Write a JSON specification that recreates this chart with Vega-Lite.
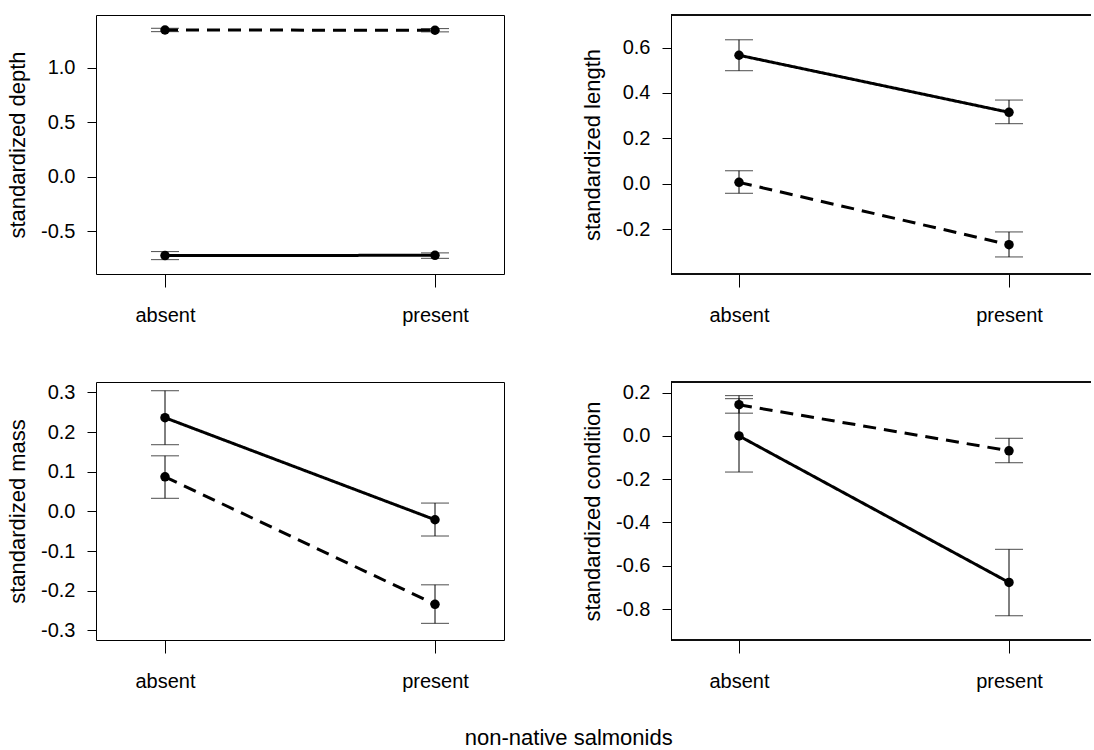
{
  "$schema": "https://vega.github.io/schema/vega-lite/v6.json",
  "padding": {"left": 6, "top": 14, "right": 0, "bottom": 0},
  "background": "white",
  "config": {
    "font": "Liberation Sans",
    "view": {"stroke": "black", "strokeWidth": 1},
    "axis": {"labelFont": "Liberation Sans", "labelFontSize": 20, "labelColor": "black", "titleFont": "Liberation Sans", "titleFontSize": 22, "titleFontWeight": "normal", "titleColor": "black", "grid": false, "tickColor": "black", "tickWidth": 1, "domain": false},
    "axisX": {"tickSize": 13, "labelPadding": 18, "labelAngle": 0},
    "axisY": {"tickSize": 9, "labelPadding": 12, "titlePadding": 11}
  },
  "title": {"text": "non-native salmonids", "orient": "bottom", "anchor": "middle", "fontSize": 22, "fontWeight": "normal", "font": "Liberation Sans", "color": "black", "offset": 36, "dx": 20},
  "data": {"values": [
    {"panel": "depth", "salmonids": "absent", "group": "group 1", "mean": -0.725, "lo": -0.762, "hi": -0.688},
    {"panel": "depth", "salmonids": "present", "group": "group 1", "mean": -0.722, "lo": -0.75, "hi": -0.70},
    {"panel": "depth", "salmonids": "absent", "group": "group 2", "mean": 1.348, "lo": 1.333, "hi": 1.364},
    {"panel": "depth", "salmonids": "present", "group": "group 2", "mean": 1.346, "lo": 1.331, "hi": 1.361},
    {"panel": "length", "salmonids": "absent", "group": "group 1", "mean": 0.566, "lo": 0.498, "hi": 0.634},
    {"panel": "length", "salmonids": "present", "group": "group 1", "mean": 0.315, "lo": 0.265, "hi": 0.369},
    {"panel": "length", "salmonids": "absent", "group": "group 2", "mean": 0.007, "lo": -0.041, "hi": 0.058},
    {"panel": "length", "salmonids": "present", "group": "group 2", "mean": -0.267, "lo": -0.321, "hi": -0.211},
    {"panel": "mass", "salmonids": "absent", "group": "group 1", "mean": 0.236, "lo": 0.168, "hi": 0.304},
    {"panel": "mass", "salmonids": "present", "group": "group 1", "mean": -0.021, "lo": -0.062, "hi": 0.021},
    {"panel": "mass", "salmonids": "absent", "group": "group 2", "mean": 0.087, "lo": 0.033, "hi": 0.14},
    {"panel": "mass", "salmonids": "present", "group": "group 2", "mean": -0.234, "lo": -0.282, "hi": -0.185},
    {"panel": "condition", "salmonids": "absent", "group": "group 1", "mean": 0.0, "lo": -0.167, "hi": 0.172},
    {"panel": "condition", "salmonids": "present", "group": "group 1", "mean": -0.677, "lo": -0.831, "hi": -0.524},
    {"panel": "condition", "salmonids": "absent", "group": "group 2", "mean": 0.144, "lo": 0.105, "hi": 0.186},
    {"panel": "condition", "salmonids": "present", "group": "group 2", "mean": -0.069, "lo": -0.124, "hi": -0.011}
  ]},
  "columns": 2,
  "spacing": {"row": 108, "column": 167},
  "bounds": "flush",
  "concat": [
    {
      "width": 408, "height": 259,
      "transform": [{"filter": "datum.panel === 'depth'"}],
      "layer": [
        {"mark": {"type": "errorbar", "color": "black", "ticks": {"size": 28, "thickness": 1, "color": "black"}, "rule": {"strokeWidth": 1, "color": "black"}},
         "encoding": {"x": {"field": "salmonids", "type": "nominal", "scale": {"type": "point", "range": [69, 339], "padding": 0}, "axis": {"title": null}},
                      "y": {"field": "lo", "type": "quantitative", "scale": {"domain": [-0.894, 1.486], "nice": false, "zero": false}, "axis": {"title": "standardized depth", "values": [-0.5, 0, 0.5, 1.0], "labelExpr": "replace(format(datum.value, '.1f'), '\u2212', '-')"}}, "y2": {"field": "hi"}}},
        {"mark": {"type": "line", "color": "black", "strokeWidth": 3},
         "encoding": {"x": {"field": "salmonids", "type": "nominal"}, "y": {"field": "mean", "type": "quantitative", "scale": {"domain": [-0.894, 1.486], "nice": false, "zero": false}}, "strokeDash": {"field": "group", "type": "nominal", "scale": {"domain": ["group 1", "group 2"], "range": [[1, 0], [13, 8]]}, "legend": null}}},
        {"mark": {"type": "point", "filled": true, "color": "black", "size": 90, "opacity": 1},
         "encoding": {"x": {"field": "salmonids", "type": "nominal"}, "y": {"field": "mean", "type": "quantitative", "scale": {"domain": [-0.894, 1.486], "nice": false, "zero": false}}}}
      ]
    },
    {
      "width": 420, "height": 259,
      "view": {"stroke": null},
      "transform": [{"filter": "datum.panel === 'length'"}],
      "layer": [
        {"mark": {"type": "errorbar", "color": "black", "ticks": {"size": 28, "thickness": 1, "color": "black"}, "rule": {"strokeWidth": 1, "color": "black"}},
         "encoding": {"x": {"field": "salmonids", "type": "nominal", "scale": {"type": "point", "range": [68, 338], "padding": 0}, "axis": {"title": null}},
                      "y": {"field": "lo", "type": "quantitative", "scale": {"domain": [-0.396, 0.743], "nice": false, "zero": false}, "axis": {"title": "standardized length", "domain": true, "domainColor": "black", "values": [-0.2, 0, 0.2, 0.4, 0.6], "labelExpr": "replace(format(datum.value, '.1f'), '\u2212', '-')"}}, "y2": {"field": "hi"}}},
        {"mark": {"type": "line", "color": "black", "strokeWidth": 3},
         "encoding": {"x": {"field": "salmonids", "type": "nominal"}, "y": {"field": "mean", "type": "quantitative", "scale": {"domain": [-0.396, 0.743], "nice": false, "zero": false}}, "strokeDash": {"field": "group", "type": "nominal", "scale": {"domain": ["group 1", "group 2"], "range": [[1, 0], [13, 8]]}, "legend": null}}},
        {"mark": {"type": "point", "filled": true, "color": "black", "size": 90, "opacity": 1},
         "encoding": {"x": {"field": "salmonids", "type": "nominal"}, "y": {"field": "mean", "type": "quantitative", "scale": {"domain": [-0.396, 0.743], "nice": false, "zero": false}}}},
        {"mark": {"type": "rule", "color": "black", "strokeWidth": 1}, "encoding": {"y": {"datum": 0.743}}},
        {"mark": {"type": "rule", "color": "black", "strokeWidth": 1}, "encoding": {"y": {"datum": -0.396}}}
      ]
    },
    {
      "width": 408, "height": 258,
      "transform": [{"filter": "datum.panel === 'mass'"}],
      "layer": [
        {"mark": {"type": "errorbar", "color": "black", "ticks": {"size": 28, "thickness": 1, "color": "black"}, "rule": {"strokeWidth": 1, "color": "black"}},
         "encoding": {"x": {"field": "salmonids", "type": "nominal", "scale": {"type": "point", "range": [69, 339], "padding": 0}, "axis": {"title": null}},
                      "y": {"field": "lo", "type": "quantitative", "scale": {"domain": [-0.324, 0.326], "nice": false, "zero": false}, "axis": {"title": "standardized mass", "values": [-0.3, -0.2, -0.1, 0, 0.1, 0.2, 0.3], "labelExpr": "replace(format(datum.value, '.1f'), '\u2212', '-')"}}, "y2": {"field": "hi"}}},
        {"mark": {"type": "line", "color": "black", "strokeWidth": 3},
         "encoding": {"x": {"field": "salmonids", "type": "nominal"}, "y": {"field": "mean", "type": "quantitative", "scale": {"domain": [-0.324, 0.326], "nice": false, "zero": false}}, "strokeDash": {"field": "group", "type": "nominal", "scale": {"domain": ["group 1", "group 2"], "range": [[1, 0], [13, 8]]}, "legend": null}}},
        {"mark": {"type": "point", "filled": true, "color": "black", "size": 90, "opacity": 1},
         "encoding": {"x": {"field": "salmonids", "type": "nominal"}, "y": {"field": "mean", "type": "quantitative", "scale": {"domain": [-0.324, 0.326], "nice": false, "zero": false}}}}
      ]
    },
    {
      "width": 420, "height": 258,
      "view": {"stroke": null},
      "transform": [{"filter": "datum.panel === 'condition'"}],
      "layer": [
        {"mark": {"type": "errorbar", "color": "black", "ticks": {"size": 28, "thickness": 1, "color": "black"}, "rule": {"strokeWidth": 1, "color": "black"}},
         "encoding": {"x": {"field": "salmonids", "type": "nominal", "scale": {"type": "point", "range": [68, 338], "padding": 0}, "axis": {"title": null}},
                      "y": {"field": "lo", "type": "quantitative", "scale": {"domain": [-0.943, 0.249], "nice": false, "zero": false}, "axis": {"title": "standardized condition", "domain": true, "domainColor": "black", "values": [-0.8, -0.6, -0.4, -0.2, 0, 0.2], "labelExpr": "replace(format(datum.value, '.1f'), '\u2212', '-')"}}, "y2": {"field": "hi"}}},
        {"mark": {"type": "line", "color": "black", "strokeWidth": 3},
         "encoding": {"x": {"field": "salmonids", "type": "nominal"}, "y": {"field": "mean", "type": "quantitative", "scale": {"domain": [-0.943, 0.249], "nice": false, "zero": false}}, "strokeDash": {"field": "group", "type": "nominal", "scale": {"domain": ["group 1", "group 2"], "range": [[1, 0], [13, 8]]}, "legend": null}}},
        {"mark": {"type": "point", "filled": true, "color": "black", "size": 90, "opacity": 1},
         "encoding": {"x": {"field": "salmonids", "type": "nominal"}, "y": {"field": "mean", "type": "quantitative", "scale": {"domain": [-0.943, 0.249], "nice": false, "zero": false}}}},
        {"mark": {"type": "rule", "color": "black", "strokeWidth": 1}, "encoding": {"y": {"datum": 0.249}}},
        {"mark": {"type": "rule", "color": "black", "strokeWidth": 1}, "encoding": {"y": {"datum": -0.943}}}
      ]
    }
  ]
}
